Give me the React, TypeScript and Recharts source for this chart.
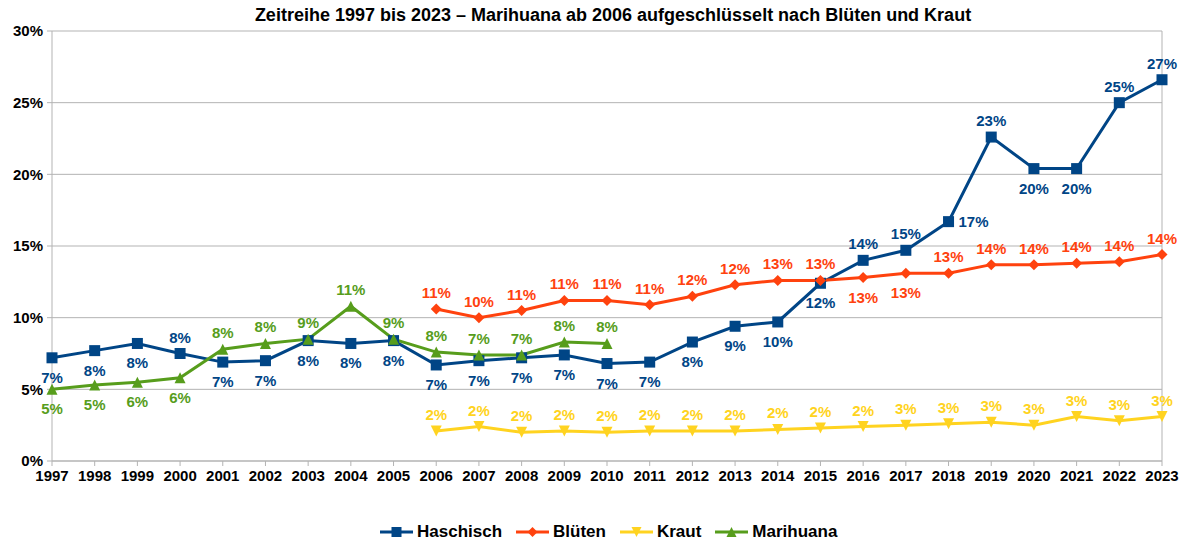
import React from 'react';
import { LineChart, Line, XAxis, YAxis, CartesianGrid, ReferenceLine } from 'recharts';

if (typeof document !== 'undefined') {
  document.body.style.margin = '0';
}

const FONT = '"Liberation Sans", Arial, sans-serif';

const years = [1997, 1998, 1999, 2000, 2001, 2002, 2003, 2004, 2005, 2006, 2007, 2008, 2009, 2010, 2011, 2012, 2013, 2014, 2015, 2016, 2017, 2018, 2019, 2020, 2021, 2022, 2023];

const haschisch = [7.2, 7.7, 8.2, 7.5, 6.9, 7.0, 8.4, 8.2, 8.4, 6.7, 7.0, 7.2, 7.4, 6.8, 6.9, 8.3, 9.4, 9.7, 12.4, 14.0, 14.7, 16.7, 22.6, 20.4, 20.4, 25.0, 26.6];
const blueten = [null, null, null, null, null, null, null, null, null, 10.6, 10.0, 10.5, 11.2, 11.2, 10.9, 11.5, 12.3, 12.6, 12.6, 12.8, 13.1, 13.1, 13.7, 13.7, 13.8, 13.9, 14.4];
const kraut = [null, null, null, null, null, null, null, null, null, 2.1, 2.4, 2.0, 2.1, 2.0, 2.1, 2.1, 2.1, 2.2, 2.3, 2.4, 2.5, 2.6, 2.7, 2.5, 3.1, 2.8, 3.1];
const marihuana = [5.0, 5.3, 5.5, 5.8, 7.8, 8.2, 8.5, 10.8, 8.5, 7.6, 7.4, 7.4, 8.3, 8.2, null, null, null, null, null, null, null, null, null, null, null, null, null];

const yTicks = [0, 5, 10, 15, 20, 25, 30];

// label placement (style)
const hashSide = ['below', 'below', 'below', 'above', 'below', 'below', 'below', 'below', 'below', 'below', 'below', 'below', 'below', 'below', 'below', 'below', 'below', 'below', 'below', 'above', 'above', 'right', 'above', 'below', 'below', 'above', 'above'];
const bluetenSide = years.map((y) => (y === 2016 || y === 2017 ? 'below' : 'above'));
const krautSide = years.map(() => 'above');
const mariSide = years.map((y) => (y <= 2000 ? 'below' : 'above'));

const C_HASH = '#004586';
const C_BLUE = '#ff420e';
const C_KRAUT = '#ffd320';
const C_MARI = '#579d1c';
const GRID = '#b3b3b3';

const data = years.map((year, i) => ({
  year,
  haschisch: haschisch[i],
  blueten: blueten[i],
  kraut: kraut[i],
  marihuana: marihuana[i],
}));

type Shape = 'square' | 'diamond' | 'down' | 'up';

function marker(shape: Shape, cx: number, cy: number, color: string, s = 5.5) {
  if (shape === 'square') return <rect x={cx - s} y={cy - s} width={2 * s} height={2 * s} fill={color} />;
  if (shape === 'diamond') return <polygon points={`${cx},${cy - s} ${cx + s},${cy} ${cx},${cy + s} ${cx - s},${cy}`} fill={color} />;
  if (shape === 'down') return <polygon points={`${cx - s},${cy - s} ${cx + s},${cy - s} ${cx},${cy + s}`} fill={color} />;
  return <polygon points={`${cx - s},${cy + s} ${cx + s},${cy + s} ${cx},${cy - s}`} fill={color} />;
}

function makeDot(shape: Shape, color: string, sides: string[], name: string) {
  return (props: any) => {
    const { cx, cy, value, index } = props;
    if (cx == null || cy == null || value == null || Number.isNaN(cy)) return <g key={`${name}-${index}`} />;
    const side = sides[index];
    const txt = `${Math.round(value)}%`;
    let tx = cx;
    let ty = cy - 11;
    let anchor: 'middle' | 'start' = 'middle';
    if (side === 'below') ty = cy + 25;
    if (side === 'right') {
      tx = cx + 10;
      ty = cy + 5;
      anchor = 'start';
    }
    return (
      <g key={`${name}-${index}`}>
        {marker(shape, cx, cy, color)}
        <text x={tx} y={ty} textAnchor={anchor} fill={color} fontSize={15} fontWeight="bold" fontFamily={FONT}>
          {txt}
        </text>
      </g>
    );
  };
}

const legendItems: { name: string; color: string; shape: Shape }[] = [
  { name: 'Haschisch', color: C_HASH, shape: 'square' },
  { name: 'Blüten', color: C_BLUE, shape: 'diamond' },
  { name: 'Kraut', color: C_KRAUT, shape: 'down' },
  { name: 'Marihuana', color: C_MARI, shape: 'up' },
];

export default function App() {
  return (
    <div style={{ position: 'relative', width: 1184, height: 542, fontFamily: FONT, background: '#fff' }}>
      <div
        style={{
          position: 'absolute',
          left: 613,
          top: 4,
          transform: 'translateX(-50%)',
          whiteSpace: 'nowrap',
          fontSize: 18,
          fontWeight: 'bold',
          color: '#000',
          lineHeight: '22px',
        }}
      >
        Zeitreihe 1997 bis 2023 – Marihuana ab 2006 aufgeschlüsselt nach Blüten und Kraut
      </div>
      <LineChart width={1184} height={542} data={data} margin={{ top: 31, right: 22, bottom: 51, left: 0 }}>
        <CartesianGrid horizontal vertical={false} stroke={GRID} strokeWidth={1} />
        <XAxis
          dataKey="year"
          type="number"
          domain={[1997, 2023]}
          ticks={years}
          interval={0}
          height={30}
          tickSize={5}
          tickMargin={4}
          stroke={GRID}
          tick={{ fill: '#000', fontSize: 15, fontWeight: 'bold', fontFamily: FONT }}
          allowDecimals={false}
        />
        <YAxis
          type="number"
          domain={[0, 30]}
          ticks={yTicks}
          width={52}
          tickSize={5}
          tickMargin={4}
          stroke={GRID}
          tickFormatter={(v: number) => `${v}%`}
          tick={{ fill: '#000', fontSize: 15, fontWeight: 'bold', fontFamily: FONT }}
        />
        <ReferenceLine x={2023} stroke={GRID} strokeWidth={1} />
        <Line
          dataKey="haschisch"
          stroke={C_HASH}
          strokeWidth={3}
          isAnimationActive={false}
          dot={makeDot('square', C_HASH, hashSide, 'h')}
          activeDot={false}
        />
        <Line
          dataKey="blueten"
          stroke={C_BLUE}
          strokeWidth={3}
          isAnimationActive={false}
          dot={makeDot('diamond', C_BLUE, bluetenSide, 'b')}
          activeDot={false}
        />
        <Line
          dataKey="kraut"
          stroke={C_KRAUT}
          strokeWidth={3}
          isAnimationActive={false}
          dot={makeDot('down', C_KRAUT, krautSide, 'k')}
          activeDot={false}
        />
        <Line
          dataKey="marihuana"
          stroke={C_MARI}
          strokeWidth={3}
          isAnimationActive={false}
          dot={makeDot('up', C_MARI, mariSide, 'm')}
          activeDot={false}
        />
      </LineChart>
      <div
        style={{
          position: 'absolute',
          left: 380,
          top: 522,
          display: 'flex',
          alignItems: 'center',
          whiteSpace: 'nowrap',
          fontSize: 17,
          fontWeight: 'bold',
          color: '#000',
          lineHeight: '20px',
        }}
      >
        {legendItems.map((it) => (
          <div key={it.name} style={{ display: 'flex', alignItems: 'center', marginRight: 14 }}>
            <svg width={33} height={14} style={{ marginRight: 4 }}>
              <line x1={0} y1={7} x2={33} y2={7} stroke={it.color} strokeWidth={3} />
              {marker(it.shape, 16.5, 7, it.color, 5)}
            </svg>
            <span>{it.name}</span>
          </div>
        ))}
      </div>
    </div>
  );
}
